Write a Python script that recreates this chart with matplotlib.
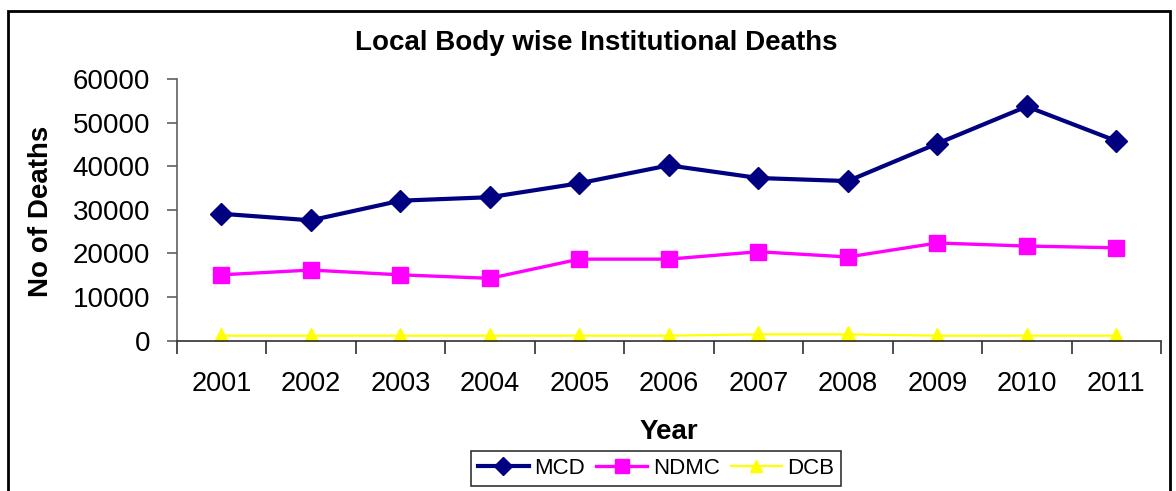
#!/usr/bin/env python3
"""Local body wise institutional deaths, 2001-2011 (line chart with markers)."""

import matplotlib

matplotlib.use("Agg")
import matplotlib.pyplot as plt  # noqa: E402
from matplotlib.patches import Rectangle  # noqa: E402
from matplotlib.ticker import FixedLocator  # noqa: E402

plt.rcParams["font.family"] = ["Liberation Sans", "DejaVu Sans"]

years = ["2001", "2002", "2003", "2004", "2005", "2006",
         "2007", "2008", "2009", "2010", "2011"]
mcd = [29100, 27600, 32100, 32900, 36100, 40200, 37300, 36600, 45200, 53700, 45800]
ndmc = [15100, 16200, 15100, 14300, 18700, 18700, 20400, 19200, 22400, 21700, 21300]
dcb = [1150, 1150, 1150, 1150, 1150, 1150, 1450, 1450, 1150, 1150, 1150]
y_ticks = [0, 10000, 20000, 30000, 40000, 50000, 60000]

W, H = 1176, 491
fig = plt.figure(figsize=(W / 100, H / 100), dpi=100)
ax = fig.add_axes([176.7 / W, 1 - 340.7 / H, (1161 - 176.7) / W, (340.7 - 79) / H])

x = list(range(len(years)))
l1, = ax.plot(x, mcd, color="#000080", lw=3, marker="D", ms=11, label="MCD")
l2, = ax.plot(x, ndmc, color="#FF00FF", lw=2.4, marker="s", ms=12, label="NDMC")
l3, = ax.plot(x, dcb, color="#FFFF00", lw=1.6, marker="^", ms=11, label="DCB")

ax.set_xlim(-0.5, len(years) - 0.5)
ax.set_ylim(0, 60000)
ax.set_yticks(y_ticks)
ax.set_yticklabels([str(v) for v in y_ticks], fontsize=20)
ax.set_xticks(x)
ax.set_xticklabels(years, fontsize=19.5)
# tick marks sit between the years, labels at the centres
ax.xaxis.set_minor_locator(FixedLocator([i - 0.5 for i in range(len(years) + 1)]))
ax.tick_params(axis="x", which="major", length=0, pad=22)
ax.tick_params(axis="x", which="minor", length=9, width=1.2, color="#303030")
ax.tick_params(axis="y", length=7, width=1.2, color="#606060", pad=12)

for side in ("top", "right"):
    ax.spines[side].set_visible(False)
ax.spines["left"].set_color("#606060")
ax.spines["left"].set_linewidth(1.2)
ax.spines["bottom"].set_color("#303030")
ax.spines["bottom"].set_linewidth(1.2)

fig.text(596 / W, 1 - 50 / H, "Local Body wise Institutional Deaths",
         fontsize=20, weight="bold", ha="center", va="baseline")
fig.text(41 / W, 1 - 211 / H, "No of Deaths", fontsize=20, weight="bold",
         rotation=90, ha="center", va="center")
fig.text(669 / W, 1 - 439 / H, "Year", fontsize=20, weight="bold",
         ha="center", va="baseline")

leg = fig.legend(handles=[l1, l2, l3], loc="center",
                 bbox_to_anchor=(656 / W, 1 - 468.5 / H), ncol=3, fontsize=16,
                 frameon=True, fancybox=False, edgecolor="black",
                 handlelength=2.3, handletextpad=0.25, columnspacing=0.5,
                 borderpad=0.3, borderaxespad=0, markerscale=0.8)
leg.get_frame().set_linewidth(1.2)

fig.add_artist(Rectangle((8 / W, -0.01), (1170 - 8) / W, 1 - 11 / H + 0.01,
                         transform=fig.transFigure, fill=False,
                         edgecolor="black", linewidth=2))

fig.savefig("out.png", dpi=100)
